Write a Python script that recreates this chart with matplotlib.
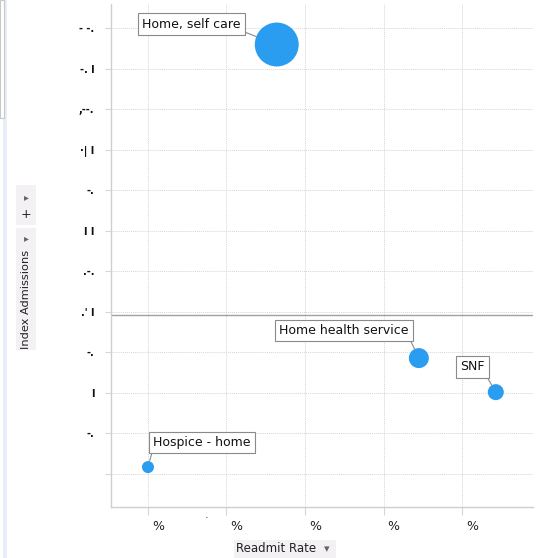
import matplotlib
matplotlib.use("Agg")
import matplotlib.pyplot as plt
import matplotlib.transforms as mtransforms
from matplotlib.patches import Rectangle

# Данные (в единицах делений осей, подписи на картинке скрыты)
categories = ["Home, self care", "Home health service", "SNF", "Hospice - home"]
readmit_rate = [1.64, 3.45, 4.43, 0.0]
index_admissions = [10.6, 2.86, 2.02, 0.17]
bubble_size = [1000, 207, 133, 75]

x_ticks = [0, 1, 2, 3, 4]
x_tick_labels = ["%", "%", "%", "%", "%"]
y_ticks = [0, 1, 2, 3, 4, 5, 6, 7, 8, 9, 10, 11]
y_tick_labels = ["", "-.", "I", "-.", ".' I", ".-.", "I I", "-.", "·| I", ",--.", "-. I", "- -."]
average_line = 3.93

# смещения подписей (в пикселях) и угол, от которого идёт выноска
label_offsets = [(-36, 14), (-10, 21), (-11, 19), (5, 18)]
label_ha = ["right", "right", "right", "left"]

bubble_color = "#2A9DF0"
grid_color = "#d6d6d6"

fig = plt.figure(figsize=(5.36, 5.58), dpi=100)
ax = fig.add_axes([111 / 536, 1 - 507 / 558, 422 / 536, 503 / 558])

ax.set_xlim(-0.471, 4.904)
ax.set_ylim(-0.815, 11.6)

ax.scatter(readmit_rate, index_admissions, s=bubble_size, color=bubble_color,
           edgecolors="none", zorder=3)

ax.axhline(average_line, color="#a0a0a0", linewidth=1.0, zorder=2)

for name, x, y, s, off, ha in zip(categories, readmit_rate, index_admissions,
                                   bubble_size, label_offsets, label_ha):
    radius_pt = (s ** 0.5) / 2
    ax.annotate(name, (x, y), xytext=off, textcoords="offset pixels",
                ha=ha, va="bottom", fontsize=9, color="#111111", zorder=4,
                bbox=dict(boxstyle="square,pad=0.35", fc="white", ec="#8a8a8a", lw=0.8),
                arrowprops=dict(arrowstyle="-", color="#8a8a8a", lw=0.8,
                                relpos=(1, 0) if ha == "right" else (0, 0),
                                shrinkA=0, shrinkB=radius_pt))

# сетка и оси
ax.set_xticks(x_ticks)
ax.set_xticklabels(x_tick_labels, fontsize=9, color="#222222")
ax.set_yticks(y_ticks)
ax.set_yticklabels(y_tick_labels, fontsize=7, color="#111111", fontweight="bold")
ax.grid(True, color=grid_color, linestyle=(0, (1, 1)), linewidth=0.7)
ax.set_axisbelow(True)
ax.tick_params(axis="x", length=6, color=grid_color, pad=3)
ax.tick_params(axis="y", length=4, color=grid_color, pad=8)

shift = mtransforms.ScaledTranslation(10 / 100, 0, fig.dpi_scale_trans)
for lbl in ax.get_xticklabels():
    lbl.set_transform(lbl.get_transform() + shift)
ax.text(0.75, -1.1, "·", fontsize=8, ha="center", va="center", color="#333333")

for side in ["top", "right"]:
    ax.spines[side].set_visible(False)
for side in ["left", "bottom"]:
    ax.spines[side].set_color("#cfcfcf")
    ax.spines[side].set_linewidth(1.0)

# подписи осей как элементы интерфейса
fig.patches.append(Rectangle((234 / 536, 0), 102 / 536, 18 / 558,
                             transform=fig.transFigure, fc="#f4f1f4", ec="none"))
fig.text(276 / 536, 1 - 549 / 558, "Readmit Rate", fontsize=8.5, ha="center", va="center",
         color="#222222")
fig.text(327 / 536, 1 - 549 / 558, "▾", fontsize=8, ha="center", va="center", color="#666666")

fig.patches.append(Rectangle((16 / 536, 1 - 350 / 558), 20 / 536, 122 / 558,
                             transform=fig.transFigure, fc="#f4f1f4", ec="none"))
fig.text(26 / 536, 1 - 299 / 558, "Index Admissions", fontsize=8.2, ha="center", va="center",
         rotation=90, color="#222222")
fig.text(26 / 536, 1 - 238 / 558, "▸", fontsize=7, ha="center", va="center", color="#666666")
fig.patches.append(Rectangle((16 / 536, 1 - 225 / 558), 20 / 536, 40 / 558,
                             transform=fig.transFigure, fc="#f4f1f4", ec="none"))
fig.text(26 / 536, 1 - 215 / 558, "+", fontsize=9, ha="center", va="center", color="#222222")
fig.text(26 / 536, 1 - 197 / 558, "▸", fontsize=7, ha="center", va="center", color="#666666")

# светлая полоса у левого края
fig.patches.append(Rectangle((3 / 536, 0), 4 / 536, 1, transform=fig.transFigure,
                             fc="#e6eef8", ec="none"))
fig.patches.append(Rectangle((0, 1 - 118 / 558), 4 / 536, 118 / 558, transform=fig.transFigure,
                             fc="white", ec="#c8c8c8", lw=0.8))

fig.savefig("out.png", dpi=100)
